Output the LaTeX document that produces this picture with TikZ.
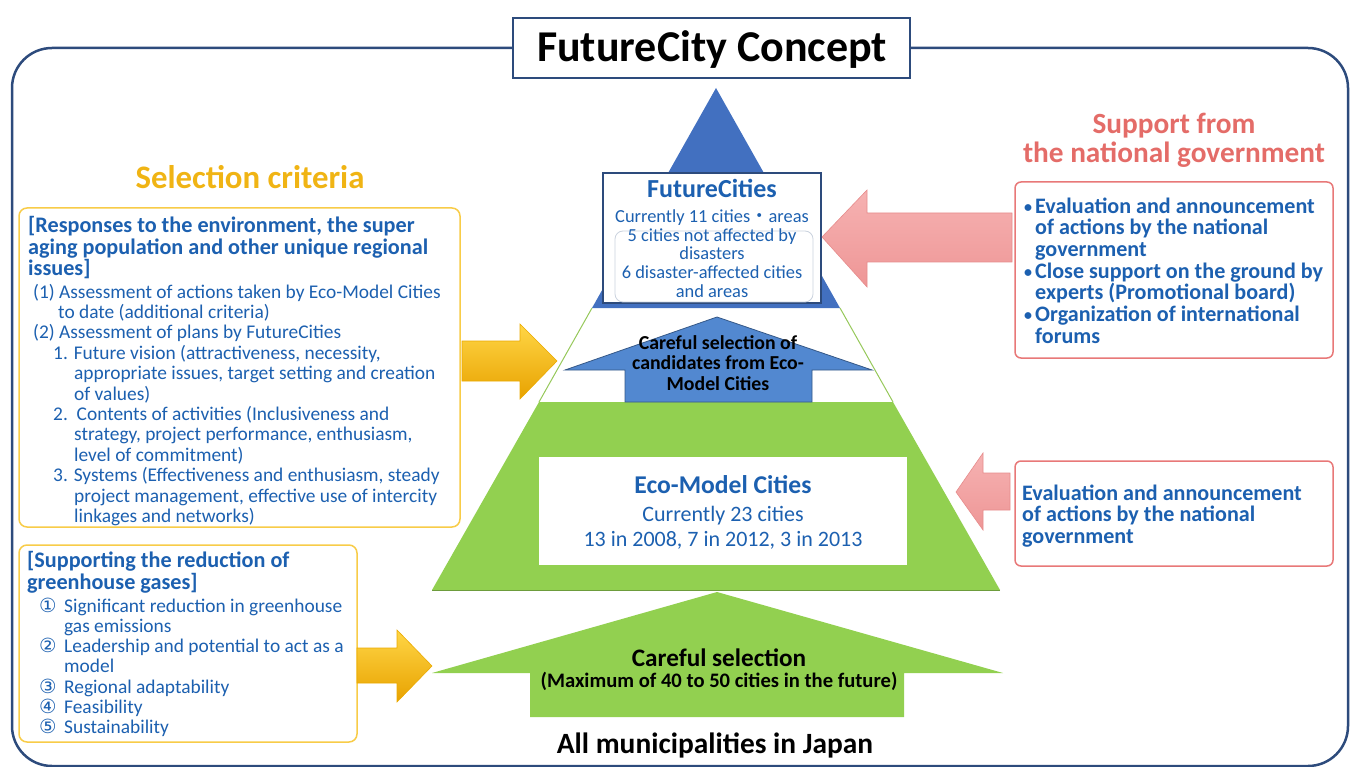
\documentclass[tikz,border=0pt]{standalone}
\usepackage{fontspec}
\setmainfont{Carlito}
\newfontfamily\symfont{DejaVu Sans}
\newfontfamily\cjkfont{Noto Sans CJK JP}

\definecolor{navy}{RGB}{45,75,124}
\definecolor{txtblue}{RGB}{28,96,176}
\definecolor{gold}{RGB}{240,180,20}
\definecolor{goldline}{RGB}{248,204,72}
\definecolor{salmon}{RGB}{228,108,104}
\definecolor{pinkline}{RGB}{232,120,120}
\definecolor{pyrblue}{RGB}{66,112,192}
\definecolor{arrblue}{RGB}{82,136,208}
\definecolor{pyrgreen}{RGB}{146,208,80}
\definecolor{greenline}{RGB}{150,200,90}

\newcommand{\fsz}[2]{\lineskiplimit=-100pt\fontsize{#1}{#2}\selectfont}
\newcommand{\bul}{\makebox[11pt][l]{\raisebox{1pt}{\fsz{16}{16}•}}}
\newcommand{\cnum}[1]{\makebox[25pt][l]{{\symfont\fsz{19.5}{20}#1}}}

\begin{document}
\begin{tikzpicture}[x=1pt, y=-1pt,
    txt/.style={inner sep=0pt, anchor=base west, align=left, text=txtblue},
    ctxt/.style={inner sep=0pt, anchor=base, align=center},
    critbox/.style={draw=goldline, line width=1.5pt, rounded corners=8pt, fill=white, inner sep=0pt},
    supbox/.style={draw=pinkline, line width=1.5pt, rounded corners=6pt, fill=white, inner sep=0pt},
    yarrow/.style={top color={rgb,255:red,255;green,214;blue,70}, middle color={rgb,255:red,255;green,192;blue,0}, bottom color={rgb,255:red,232;green,162;blue,0}, draw={rgb,255:red,235;green,170;blue,0}, line width=0.6pt},
    parrow/.style={top color={rgb,255:red,246;green,178;blue,178}, middle color={rgb,255:red,252;green,214;blue,214}, bottom color={rgb,255:red,238;green,150;blue,150}, draw={rgb,255:red,230;green,140;blue,140}, line width=0.6pt}
   ]
   \useasboundingbox (0,0) rectangle (1351,767);
   \draw[navy, line width=2.5pt, rounded corners=40pt] (12,48) rectangle (1348,766);
   \node[draw=navy, line width=1.5pt, fill=white, minimum width=397pt, minimum height=60pt] (title) at (711.5,48) {};
   \node[ctxt, font=\bfseries\fsz{44}{44}] (titletxt) at (712,62) {FutureCity Concept};

   % Pyramid (multi-line texts sit on the baseline of their last line)
   \draw[greenline, line width=1pt] (592,308) -- (539,402);
   \draw[greenline, line width=1pt] (840,308) -- (893,402);
   \fill[pyrblue] (716,88) -- (840,308) -- (592,308) -- cycle;
   \fill[pyrgreen] (539,402) -- (893,402) -- (1000,590) -- (432,590) -- cycle;
   \draw[pyrgreen!75!black, line width=0.8pt] (432,590) -- (1000,590);

   \node[draw=navy, line width=1.2pt, fill=white, minimum width=218pt, minimum height=130pt] (fc) at (712,238) {};
   \draw[navy!25, line width=0.8pt, rounded corners=8pt] (615,231) rectangle (813,302);
   \node[ctxt, text=txtblue, font=\bfseries\fsz{26}{26}] (fchd) at (712,198) {FutureCities};
   \node[ctxt, text=txtblue, font=\fsz{18.4}{18.5}] (fctxt) at (712,297)
      {Currently 11 cities{\cjkfont ・}areas\\5 cities not affected by\\disasters\\6 disaster-affected cities\\and areas};

   \draw[arrblue!65!black, line width=0.8pt, fill=arrblue] (717,317) -- (872,370) -- (812,370) -- (812,402)
      -- (625,402) -- (625,370) -- (565,370) -- cycle;
   \node[ctxt, font=\bfseries\fsz{19.8}{20.5}] (cand) at (718,390) {Careful selection of\\candidates from Eco-\\Model Cities};

   \node[fill=white, minimum width=368pt, minimum height=108pt] (eco) at (723,511) {};
   \node[ctxt, text=txtblue, font=\bfseries\fsz{25.6}{26}] (ecohd) at (723,493) {Eco-Model Cities};
   \node[ctxt, text=txtblue, font=\fsz{22}{25.5}] (ecotxt) at (723,546.5) {Currently 23 cities\\13 in 2008, 7 in 2012, 3 in 2013};

   \fill[pyrgreen] (717,592) -- (1003,673) -- (904,673) -- (904,717) -- (530,717) -- (530,673) -- (432,673) -- cycle;
   \node[ctxt, font=\bfseries\fsz{25.2}{26}] (sel) at (719,666) {Careful selection};
   \node[ctxt, font=\bfseries\fsz{20.6}{21}] (selmax) at (719,687) {(Maximum of 40 to 50 cities in the future)};
   \node[ctxt, font=\bfseries\fsz{29.4}{30}] (allmun) at (715,753) {All municipalities in Japan};

   % Selection criteria
   \node[ctxt, text=gold, font=\bfseries\fsz{32.8}{33}] (crit) at (250,189) {Selection criteria};
   \node[critbox, minimum width=441pt, minimum height=319pt] (critA) at (239.5,367.5) {};
   \node[txt, font=\bfseries\fsz{22.2}{21.5}] (critAhd) at (28,276)
      {[Responses to the environment, the super\\aging population and other unique regional\\issues]};
   \node[txt, font=\fsz{19.4}{20.4}] (critAtxt) at (33,522.4)
      {(1) Assessment of actions taken by Eco-Model Cities\\
       \hspace*{25pt}to date (additional criteria)\\
       (2) Assessment of plans by FutureCities\\
       \hspace*{20pt}1. Future vision (attractiveness, necessity,\\
       \hspace*{41pt}appropriate issues, target setting and creation\\
       \hspace*{41pt}of values)\\
       \hspace*{20pt}2.\ \ Contents of activities (Inclusiveness and\\
       \hspace*{41pt}strategy, project performance, enthusiasm,\\
       \hspace*{41pt}level of commitment)\\
       \hspace*{20pt}3. Systems (Effectiveness and enthusiasm, steady\\
       \hspace*{41pt}project management, effective use of intercity\\
       \hspace*{41pt}linkages and networks)};

   \node[critbox, minimum width=338pt, minimum height=197pt] (critB) at (188,643.5) {};
   \node[txt, font=\bfseries\fsz{22.2}{22}] (critBhd) at (27,589) {[Supporting the reduction of\\greenhouse gases]};
   \node[txt, font=\fsz{19.4}{20.3}] (critBtxt) at (39,733.8)
      {\cnum{①}Significant reduction in greenhouse\\
       \hspace*{25pt}gas emissions\\
       \cnum{②}Leadership and potential to act as a\\
       \hspace*{25pt}model\\
       \cnum{③}Regional adaptability\\
       \cnum{④}Feasibility\\
       \cnum{⑤}Sustainability};

   \shade[yarrow] (462,341) -- (520,341) -- (520,324) -- (557,361) -- (520,399) -- (520,381) -- (462,381) -- cycle;
   \shade[yarrow] (357,648) -- (397,648) -- (397,630) -- (432,666) -- (397,702) -- (397,683) -- (357,683) -- cycle;

   % Support from the national government
   \node[ctxt, text=salmon, font=\bfseries\fsz{29.3}{29}] (sup) at (1174,163) {Support from\\the national government};
   \node[supbox, minimum width=318pt, minimum height=176pt] (supA) at (1174,270) {};
   \node[txt, font=\bfseries\fsz{22.1}{21.7}] (supAtxt) at (1024,343.2)
      {\bul Evaluation and announcement\\
       \hspace*{11pt}of actions by the national\\
       \hspace*{11pt}government\\
       \bul Close support on the ground by\\
       \hspace*{11pt}experts (Promotional board)\\
       \bul Organization of international\\
       \hspace*{11pt}forums};
   \node[supbox, minimum width=318pt, minimum height=105pt] (supB) at (1174,513.5) {};
   \node[txt, font=\bfseries\fsz{22.1}{21.7}] (supBtxt) at (1022,543.4)
      {Evaluation and announcement\\of actions by the national\\government};

   \shade[parrow] (1012,213) -- (867,213) -- (867,190) -- (822,237) -- (867,287) -- (867,262) -- (1012,262) -- cycle;
   \shade[parrow] (1010,473) -- (983,473) -- (983,453) -- (956,492) -- (983,530) -- (983,510) -- (1010,510) -- cycle;
\end{tikzpicture}
\end{document}
